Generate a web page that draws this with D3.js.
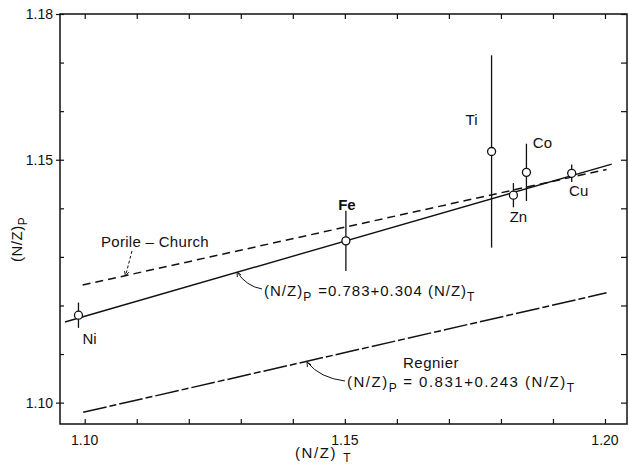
<!DOCTYPE html>
<html>
<head>
<meta charset="utf-8">
<script src="https://cdn.jsdelivr.net/npm/d3@7"></script>
<style>
  body { margin: 0; background: #fff; }
  svg { display: block; }
  text { font-family: "Liberation Sans", Arial, sans-serif; fill: #111; }
</style>
</head>
<body>
<svg id="chart" width="629" height="467"></svg>
<script>
// ---- data ----
const elements   = ["Ni", "Fe", "Ti", "Zn", "Co", "Cu"];
const nzTarget   = [1.0988, 1.1502, 1.1782, 1.1824, 1.1849, 1.1936];
const nzProduct  = [1.1180, 1.1333, 1.1517, 1.1427, 1.1474, 1.1472];
const nzError    = [0.0026, 0.0062, 0.0198, 0.0025, 0.0059, 0.0018];

// fitted line (N/Z)P = 0.783 + 0.304 (N/Z)T, drawn end points
const fitLineX     = [1.0962, 1.2013];
const fitLineY     = [1.1166, 1.1491];
// Porile-Church line
const porileLineX  = [1.0996, 1.2003];
const porileLineY  = [1.1242, 1.1480];
// Regnier line (N/Z)P = 0.831 + 0.243 (N/Z)T
const regnierLineX = [1.0997, 1.2003];
const regnierLineY = [1.0980, 1.1226];

const xTicks      = [1.10, 1.11, 1.12, 1.13, 1.14, 1.15, 1.16, 1.17, 1.18, 1.19, 1.20];
const xTickLabels = ["1.10", "1.15", "1.20"];
const yTicks      = [1.10, 1.11, 1.12, 1.13, 1.14, 1.15, 1.16, 1.17, 1.18];
const yTickLabels = ["1.10", "1.15", "1.18"];

// ---- layout ----
const svg = d3.select("#chart");
const L = 60, R = 627, T = 14, B = 424;
const x = d3.scaleLinear().domain([1.09525, 1.20423]).range([L, R]);
const y = d3.scaleLinear().domain([1.0956, 1.18]).range([B, T]);

const ink = "#111";

// frame
svg.append("rect").attr("x", L).attr("y", T).attr("width", R - L).attr("height", B - T)
  .attr("fill", "none").attr("stroke", ink).attr("stroke-width", 1.5);

// axes with inward ticks
const bottomAxis = d3.axisTop(x).tickValues(xTicks).tickSize(5).tickFormat("");
const topAxis = d3.axisBottom(x).tickValues(xTicks).tickSize(5).tickFormat("");
const leftAxis = d3.axisRight(y).tickValues(yTicks).tickSize(4).tickFormat("");
const rightAxis = d3.axisLeft(y).tickValues(yTicks).tickSize(6).tickFormat("");
[[bottomAxis, `translate(0,${B})`], [topAxis, `translate(0,${T})`],
 [leftAxis, `translate(${L},0)`], [rightAxis, `translate(${R},0)`]].forEach(([ax, tr]) => {
  const g = svg.append("g").attr("transform", tr).call(ax);
  g.select(".domain").remove();
  g.selectAll("line").attr("stroke", ink).attr("stroke-width", 1.2);
});
// outward ticks at labelled values on y
svg.append("g").attr("transform", `translate(${L},0)`)
  .call(d3.axisLeft(y).tickValues(yTickLabels.map(Number)).tickSize(4).tickFormat(""))
  .call(g => g.select(".domain").remove())
  .selectAll("line").attr("stroke", ink).attr("stroke-width", 1.2);

// tick labels
svg.append("g").selectAll("text").data(xTickLabels).join("text")
  .attr("x", d => x(+d)).attr("y", B + 21).attr("text-anchor", "middle")
  .attr("font-size", 14).text(d => d);
svg.append("g").selectAll("text").data(yTickLabels).join("text")
  .attr("x", L - 7).attr("y", d => y(+d) + 5).attr("text-anchor", "end")
  .attr("font-size", 14).text(d => d);

// axis titles
const xt = svg.append("text").attr("x", 295).attr("y", 458).attr("font-size", 15)
  .attr("letter-spacing", 1.6);
xt.append("tspan").text("(N/Z)");
xt.append("tspan").attr("dx", 6).attr("dy", 4).attr("font-size", 12).text("T");

const yt = svg.append("text").attr("transform", "translate(22,262) rotate(-90)")
  .attr("font-size", 15).attr("letter-spacing", 0.5);
yt.append("tspan").text("(N/Z)");
yt.append("tspan").attr("dy", 5).attr("font-size", 12).text("P");

// lines
const lineGen = d3.line().x(d => x(d[0])).y(d => y(d[1]));
const pts = (xs, ys) => xs.map((v, i) => [v, ys[i]]);
svg.append("path").attr("d", lineGen(pts(fitLineX, fitLineY)))
  .attr("stroke", ink).attr("stroke-width", 1.4).attr("fill", "none");
svg.append("path").attr("d", lineGen(pts(porileLineX, porileLineY)))
  .attr("stroke", ink).attr("stroke-width", 1.5).attr("fill", "none")
  .attr("stroke-dasharray", "8,5");
svg.append("path").attr("d", lineGen(pts(regnierLineX, regnierLineY)))
  .attr("stroke", ink).attr("stroke-width", 1.5).attr("fill", "none")
  .attr("stroke-dasharray", "24,3,7,3");

// error bars and points
const pg = svg.append("g");
elements.forEach((el, i) => {
  pg.append("line").attr("x1", x(nzTarget[i])).attr("x2", x(nzTarget[i]))
    .attr("y1", y(nzProduct[i] - nzError[i])).attr("y2", y(nzProduct[i] + nzError[i]))
    .attr("stroke", ink).attr("stroke-width", 1.3);
});
pg.selectAll("circle").data(elements).join("circle")
  .attr("cx", (d, i) => x(nzTarget[i])).attr("cy", (d, i) => y(nzProduct[i]))
  .attr("r", 4).attr("fill", "#fff").attr("stroke", ink).attr("stroke-width", 1.3);

// element labels (offsets in px relative to the point)
const labelOffset = { Ni: [11, 29], Fe: [1, -31], Ti: [-20, -26], Zn: [5, 27], Co: [16, -24], Cu: [7, 23] };
pg.selectAll("text").data(elements).join("text")
  .attr("x", (d, i) => x(nzTarget[i]) + labelOffset[d][0])
  .attr("y", (d, i) => y(nzProduct[i]) + labelOffset[d][1])
  .attr("text-anchor", "middle").attr("font-size", 15)
  .attr("font-weight", d => d === "Fe" ? "bold" : "normal")
  .text(d => d);

// annotations
function arrowHead(tipX, tipY, fromX, fromY) {
  const a = Math.atan2(tipY - fromY, tipX - fromX), s = 5, w = 0.45;
  const p1 = [tipX - s * Math.cos(a - w), tipY - s * Math.sin(a - w)];
  const p2 = [tipX - s * Math.cos(a + w), tipY - s * Math.sin(a + w)];
  svg.append("path").attr("d", `M${p1}L${tipX},${tipY}L${p2}`)
    .attr("fill", "none").attr("stroke", ink).attr("stroke-width", 1);
}

// Porile-Church
svg.append("text").attr("x", 101).attr("y", 247).attr("font-size", 15)
  .attr("letter-spacing", 0.3).text("Porile \u2013 Church");
svg.append("path").attr("d", "M132,251 L126,274").attr("stroke", ink).attr("stroke-width", 1)
  .attr("stroke-dasharray", "3,2").attr("fill", "none");
arrowHead(125.5, 276, 132, 251);

// fit equation
const eq1 = svg.append("text").attr("x", 264).attr("y", 296).attr("font-size", 15)
  .attr("letter-spacing", 1);
eq1.append("tspan").text("(N/Z)");
eq1.append("tspan").attr("dy", 5).attr("font-size", 12).text("P");
eq1.append("tspan").attr("dy", -5).attr("dx", 6).text("=0.783+0.304  (N/Z)");
eq1.append("tspan").attr("dy", 5).attr("font-size", 12).text("T");
svg.append("path").attr("d", "M262,289 Q246,286 237.5,272.5").attr("stroke", ink)
  .attr("stroke-width", 1).attr("fill", "none");
arrowHead(237, 272, 241, 279);

// Regnier
svg.append("text").attr("x", 431).attr("y", 368).attr("text-anchor", "middle")
  .attr("font-size", 15).attr("letter-spacing", 0.5).text("Regnier");
const eq2 = svg.append("text").attr("x", 347).attr("y", 387).attr("font-size", 15)
  .attr("letter-spacing", 1.5);
eq2.append("tspan").text("(N/Z)");
eq2.append("tspan").attr("dy", 5).attr("font-size", 12).text("P");
eq2.append("tspan").attr("dy", -5).attr("dx", 5).text("= 0.831+0.243 (N/Z)");
eq2.append("tspan").attr("dy", 5).attr("font-size", 12).text("T");
svg.append("path").attr("d", "M345,381 Q320,378 307.5,362.5").attr("stroke", ink)
  .attr("stroke-width", 1).attr("fill", "none");
arrowHead(307, 362, 311, 369);
</script>
</body>
</html>
